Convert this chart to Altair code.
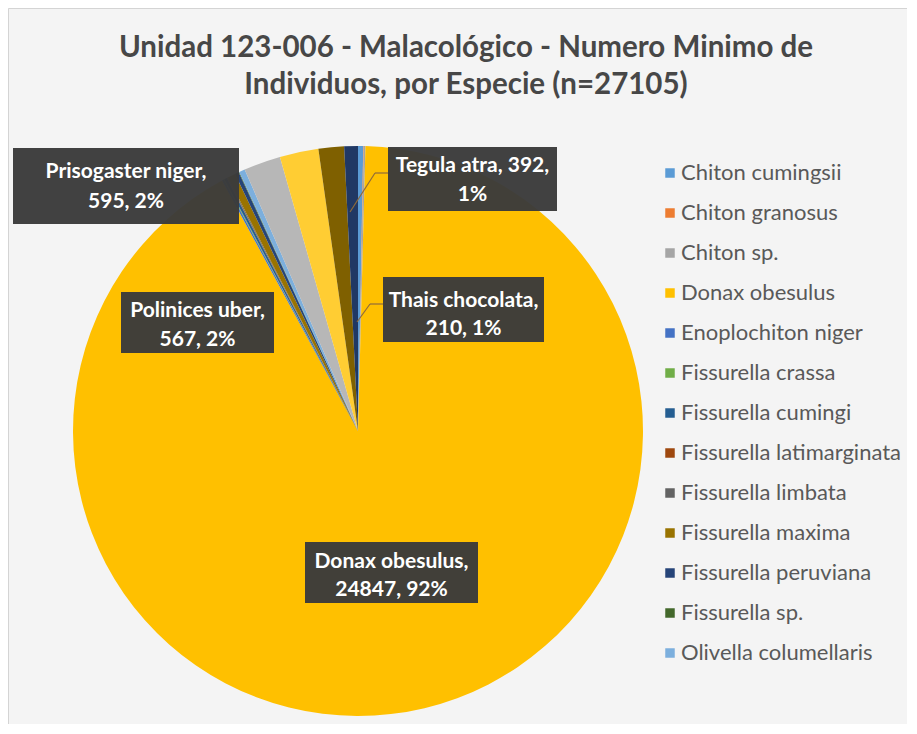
import altair as alt
import pandas as pd

# ---------------- data ----------------
especies = [
    "Chiton cumingsii", "Chiton granosus", "Chiton sp.", "Donax obesulus",
    "Enoplochiton niger", "Fissurella crassa", "Fissurella cumingi",
    "Fissurella latimarginata", "Fissurella limbata", "Fissurella maxima",
    "Fissurella peruviana", "Fissurella sp.", "Olivella columellaris",
    "Polinices uber", "Prisogaster niger", "Tegula atra", "Thais chocolata",
]
individuos = [80, 8, 25, 24847, 30, 10, 40, 6, 15, 120, 60, 10, 90, 567, 595, 392, 210]
colores = [
    "#5B9BD5", "#ED7D31", "#A5A5A5", "#FFC000", "#4472C4", "#70AD47", "#255E91",
    "#9E480E", "#636363", "#997300", "#264478", "#43682B", "#7CAFDD",
    "#B7B7B7", "#FFCD33", "#7F6000", "#203864",
]
leyenda = especies[:13]  # legend in the original is truncated after 13 entries
etiquetadas = ["Prisogaster niger", "Polinices uber", "Tegula atra", "Thais chocolata", "Donax obesulus"]
titulo = ["Unidad 123-006 - Malacológico - Numero Minimo de",
          "Individuos, por Especie (n=27105)"]

total = sum(individuos)
df = pd.DataFrame({"especie": especies, "individuos": individuos, "orden": range(len(especies))})

# ---------------- layout (annotation placement, svg px) ----------------
OFF = 8
cajas = {  # x0, y0, x1, y1, line1 y, line2 y, words on first line
    "Prisogaster niger": (13, 148, 239, 224, 172, 202, 2),
    "Polinices uber": (121, 292, 274, 353, 311, 340, 2),
    "Tegula atra": (388, 147, 557, 211, 166, 195, 3),
    "Thais chocolata": (383, 277, 544, 342, 301, 329, 2),
    "Donax obesulus": (305, 542, 478, 603, 562, 590, 2),
}
rows = []
for nombre in etiquetadas:
    v = individuos[especies.index(nombre)]
    pct = round(v / total * 100)
    partes = f"{nombre}, {v}, {pct}%".split(" ")
    x0, y0, x1, y1, t1, t2, k = cajas[nombre]
    n_first = len(nombre.split(" ")) + (k - 2)
    rows.append({
        "especie": nombre,
        "l1": " ".join(partes[:n_first]),
        "l2": " ".join(partes[n_first:]),
        "x0": x0 - OFF, "y0": y0 - OFF, "x1": x1 - OFF, "y1": y1 - OFF,
        "tx": (x0 + x1) / 2 - OFF, "t1": t1 - OFF, "t2": t2 - OFF,
    })
lab = pd.DataFrame(rows)

guias = pd.DataFrame([
    {"x": 388, "y": 173, "x2": 375, "y2": 173},
    {"x": 375, "y": 173, "x2": 350, "y2": 212},
    {"x": 383, "y": 304, "x2": 370, "y2": 304},
    {"x": 370, "y": 304, "x2": 357, "y2": 322},
])
guias = guias - OFF

FONT = "Lato"
W, H = 899, 716

pie = alt.Chart(df).mark_arc(outerRadius=285).encode(
    theta=alt.Theta("individuos:Q", stack=True),
    order=alt.Order("orden:Q"),
    color=alt.Color(
        "especie:N",
        scale=alt.Scale(domain=especies, range=colores),
        legend=alt.Legend(
            values=leyenda, title=None, orient="none", legendX=651, legendY=154,
            symbolType="square", symbolSize=90, symbolStrokeWidth=0,
            labelFont=FONT, labelFontSize=22, labelColor="#595959",
            rowPadding=18, labelOffset=0, padding=0, labelLimit=400,
        ),
    ),
    x=alt.value(350), y=alt.value(423),
)

lineas = alt.Chart(guias).mark_rule(color="#8f6a3a", strokeWidth=1.2).encode(
    x=alt.X("x:Q", scale=None, axis=None), y=alt.Y("y:Q", scale=None, axis=None),
    x2="x2:Q", y2="y2:Q",
)

cajas_m = alt.Chart(lab).mark_rect(fill="#3b3b3b", opacity=0.97).encode(
    x=alt.X("x0:Q", scale=None, axis=None), x2="x1:Q",
    y=alt.Y("y0:Q", scale=None, axis=None), y2="y1:Q",
)
txt1 = alt.Chart(lab).mark_text(font=FONT, fontSize=21, fontWeight="bold", color="white",
                                 baseline="middle", align="center").encode(
    x=alt.X("tx:Q", scale=None, axis=None), y=alt.Y("t1:Q", scale=None, axis=None), text="l1:N")
txt2 = alt.Chart(lab).mark_text(font=FONT, fontSize=21, fontWeight="bold", color="white",
                                 baseline="middle", align="center").encode(
    x=alt.X("tx:Q", scale=None, axis=None), y=alt.Y("t2:Q", scale=None, axis=None), text="l2:N")

tit = pd.DataFrame({"t": titulo, "y": [48 - OFF, 85 - OFF]})
titulo_m = alt.Chart(tit).mark_text(font=FONT, fontSize=29.5, fontWeight="bold", color="#474747",
                                    baseline="middle", align="center").encode(
    x=alt.value(466 - OFF), y=alt.Y("y:Q", scale=None, axis=None), text="t:N")

chart = alt.layer(pie, lineas, cajas_m, txt1, txt2, titulo_m).properties(
    width=W, height=H, autosize=alt.AutoSizeParams(type="none"), padding=0,
    background="#f4f4f4",
).configure_view(stroke="#d4d4d4", strokeWidth=1)

chart.save("out.html", embed_options={"renderer": "svg", "actions": False})
